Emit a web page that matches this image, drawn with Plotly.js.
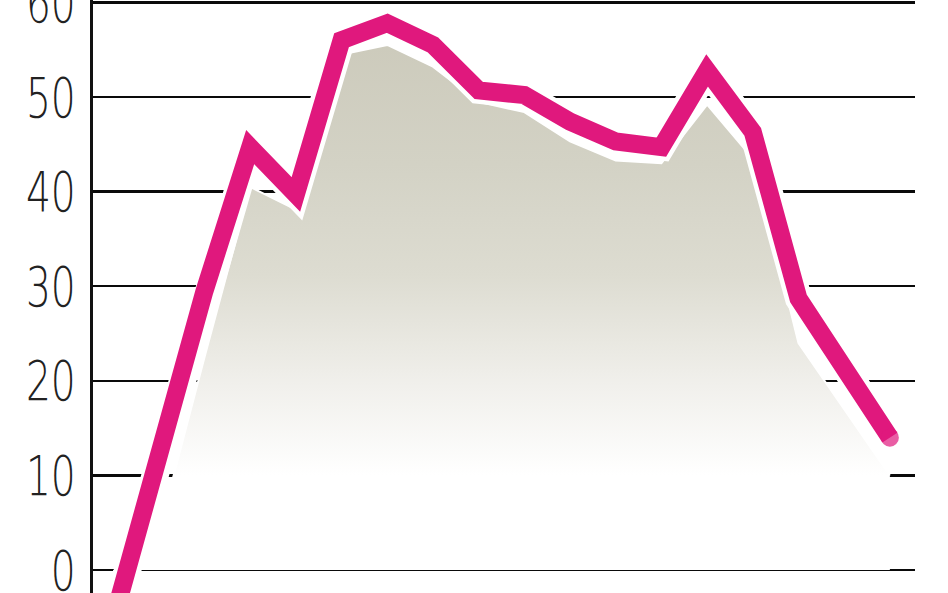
<!DOCTYPE html>
<html>
<head>
<meta charset="utf-8">
<script src="https://cdn.plot.ly/plotly-3.0.1.min.js"></script>
<style>
html,body{margin:0;padding:0;background:#fff;overflow:hidden}
#chart{width:948px;height:593px}
</style>
</head>
<body>
<div id="chart"></div>
<script>
// Data
var periods = [0,1,2,3,4,5,6,7,8,9,10,11,12,13,14,15,16,17];
var mainSeries = [-5.3, 12, 29.5, 44.7, 39.7, 56, 57.8, 55.5, 50.7, 50.2, 47.4, 45.3, 44.7, 52.8, 46.3, 28.7, 21.5, 14.0];
var shadedSeries = [-5.3, 4, 22.5, 40.5, 38.1, 54.5, 55.5, 53.2, 49.5, 48.4, 45.3, 43.3, 43.0, 49.2, 43.5, 24, 17, 10];
var tickValues = [0, 10, 20, 30, 40, 50, 60];
var tickLabels = ['0', '10', '20', '30', '40', '50', '60'];

var endMarker = mainSeries.map(function(v, i){ return i === mainSeries.length - 1 ? 18 : 0; });

var traces = [
  {
    x: periods, y: shadedSeries, type: 'scatter', mode: 'lines',
    fill: 'tozeroy',
    fillgradient: {
      type: 'vertical', start: 10, stop: 57,
      colorscale: [[0, 'rgba(255,255,255,1)'], [0.2, '#f1f0ec'], [0.45, '#dddcd1'], [0.7, '#d3d2c5'], [1, '#cccabb']]
    },
    line: {color: '#ffffff', width: 2},
    hoverinfo: 'skip', showlegend: false
  },
  {
    x: periods, y: mainSeries, type: 'scatter', mode: 'lines',
    line: {color: '#ffffff', width: 27},
    hoverinfo: 'skip', showlegend: false
  },
  {
    x: periods, y: mainSeries, type: 'scatter', mode: 'lines+markers',
    line: {color: '#e0187d', width: 18},
    marker: {size: endMarker, color: '#e0187d', line: {width: 0}},
    showlegend: false
  }
];

var layout = {
  width: 948, height: 593,
  margin: {l: 93, r: 33, t: 0, b: 0, pad: 0},
  paper_bgcolor: '#ffffff', plot_bgcolor: '#ffffff',
  showlegend: false,
  xaxis: {
    range: [-0.44, 17.55], showgrid: false, zeroline: false,
    showticklabels: false, ticks: '', showline: false, fixedrange: true
  },
  yaxis: {
    range: [-2.42, 60.25],
    tickmode: 'array', tickvals: tickValues, ticktext: tickLabels,
    showgrid: true, gridcolor: '#0a0a0a', gridwidth: 2.5,
    zeroline: false,
    showline: true, linecolor: '#111111', linewidth: 3,
    ticks: '', ticklabelstandoff: 3, ticklabeloverflow: 'allow',
    tickfont: {family: '"DejaVu Sans", sans-serif', weight: 200, size: 56, color: '#222222'},
    fixedrange: true
  }
};

Plotly.newPlot('chart', traces, layout, {displayModeBar: false, staticPlot: true}).then(function(gd){
  // condense the tick label glyphs horizontally, anchored at their right end
  var texts = gd.querySelectorAll('.ytick text');
  texts.forEach(function(t){
    var x = parseFloat(t.getAttribute('x')) || 0;
    var tr = t.getAttribute('transform') || '';
    t.setAttribute('transform', tr + ' translate(' + x + ',0) scale(0.7,1) translate(' + (-x) + ',0)');
  });
});
</script>
</body>
</html>
